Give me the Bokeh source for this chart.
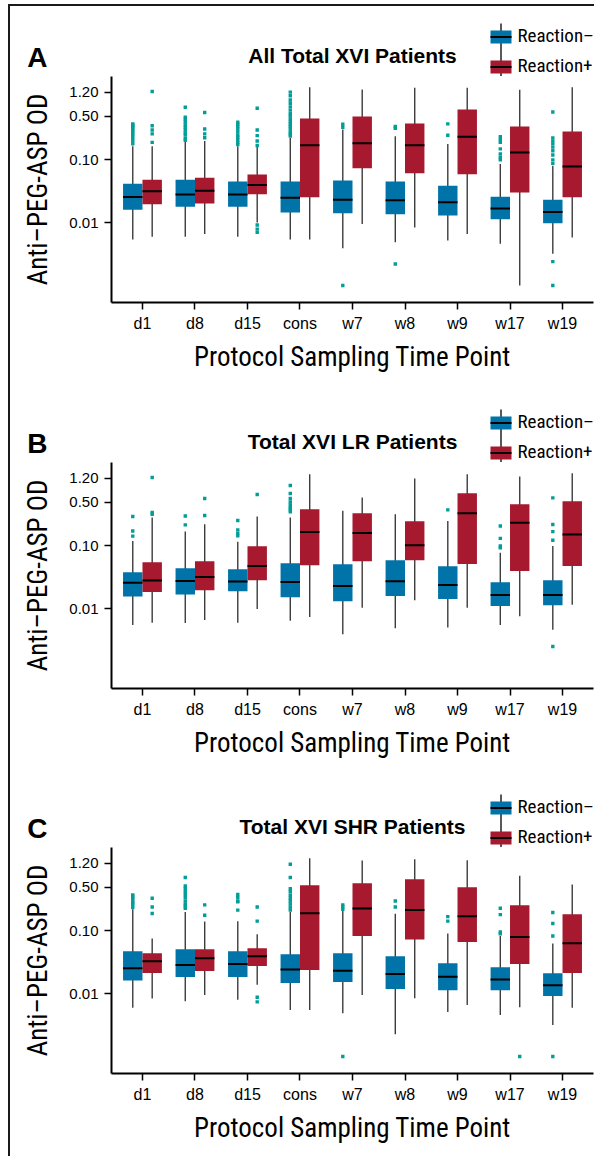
from bokeh.plotting import figure
from bokeh.models import (FactorRange, Range1d, ColumnDataSource, FixedTicker,
                          PrintfTickFormatter, Label, CustomJSTickFormatter)
from bokeh.core.properties import value
from bokeh.transform import dodge
from bokeh.layouts import column
from bokeh.embed import file_html
from bokeh.resources import INLINE

# ---------------- data ----------------
cats = ["d1", "d8", "d15", "cons", "w7", "w8", "w9", "w17", "w19"]
groups = ["Reaction\u2013", "Reaction+"]
y_ticks = [0.01, 0.1, 0.5, 1.2]

# Panel A: All Total XVI Patients
A_neg_lo  = [0.0054, 0.0060, 0.0060, 0.0054, 0.0039, 0.0049, 0.0052, 0.0046, 0.0032]
A_neg_q1  = [0.0161, 0.0180, 0.0180, 0.0146, 0.0141, 0.0136, 0.0130, 0.0113, 0.0098]
A_neg_med = [0.0257, 0.0280, 0.0280, 0.0250, 0.0233, 0.0227, 0.0211, 0.0169, 0.0148]
A_neg_q3  = [0.0419, 0.0485, 0.0451, 0.0451, 0.0468, 0.0451, 0.0389, 0.0260, 0.0233]
A_neg_hi  = [0.165, 0.198, 0.165, 0.224, 0.304, 0.238, 0.180, 0.0863, 0.081]
A_pos_lo  = [0.0060, 0.0066, 0.0101, 0.0054, 0.0095, 0.0084, 0.0066, 0.0010, 0.0058]
A_pos_q1  = [0.0196, 0.0203, 0.0283, 0.0254, 0.0735, 0.0612, 0.0589, 0.0304, 0.0254]
A_pos_med = [0.0316, 0.0324, 0.0400, 0.171, 0.184, 0.171, 0.233, 0.131, 0.0782]
A_pos_q3  = [0.0485, 0.0522, 0.0583, 0.456, 0.490, 0.379, 0.634, 0.340, 0.283]
A_pos_hi  = [0.165, 0.200, 0.165, 1.44, 1.32, 1.41, 1.41, 1.31, 1.44]
A_out_neg = {
    "d1": [0.18, 0.20, 0.22, 0.24, 0.26, 0.28, 0.30, 0.32, 0.34, 0.36, 0.375],
    "d8": [0.69, 0.48, 0.44, 0.40, 0.36, 0.33, 0.30, 0.27, 0.25, 0.22, 0.205],
    "d15": [0.398, 0.37, 0.34, 0.31, 0.28, 0.25, 0.23, 0.21, 0.19, 0.175],
    "cons": [1.2, 1.05, 0.9, 0.8, 0.7, 0.62, 0.55, 0.5, 0.45, 0.41, 0.37, 0.34, 0.31, 0.28, 0.26, 0.24],
    "w7": [0.37, 0.33, 0.001],
    "w8": [0.34, 0.32, 0.0022],
    "w9": [0.375, 0.247],
    "w17": [0.235, 0.21, 0.19, 0.15, 0.125, 0.11, 0.10],
    "w19": [0.58, 0.224, 0.20, 0.18, 0.16, 0.14, 0.12, 0.10, 0.088, 0.0024, 0.001],
}
A_out_pos = {
    "d1": [1.23, 0.35, 0.30, 0.26, 0.19],
    "d8": [0.57, 0.31, 0.26, 0.225],
    "d15": [0.666, 0.30, 0.244, 0.20, 0.17, 0.0092, 0.0079, 0.0070],
}

# Panel B: Total XVI LR Patients
B_neg_lo  = [0.0055, 0.0059, 0.0060, 0.0064, 0.0039, 0.0049, 0.0050, 0.0055, 0.0046]
B_neg_q1  = [0.0157, 0.0169, 0.0189, 0.0152, 0.0132, 0.0159, 0.0143, 0.0110, 0.0114]
B_neg_med = [0.0260, 0.0276, 0.0270, 0.0267, 0.0230, 0.0273, 0.0239, 0.0165, 0.0165]
B_neg_q3  = [0.0380, 0.0440, 0.0424, 0.0529, 0.0510, 0.0590, 0.0474, 0.0263, 0.0283]
B_neg_hi  = [0.120, 0.169, 0.117, 0.283, 0.362, 0.320, 0.250, 0.078, 0.100]
B_pos_lo  = [0.0060, 0.0066, 0.0099, 0.0074, 0.0104, 0.0136, 0.0104, 0.0076, 0.0116]
B_pos_q1  = [0.0185, 0.0196, 0.0283, 0.0491, 0.0570, 0.0590, 0.0516, 0.0400, 0.0480]
B_pos_med = [0.0280, 0.0320, 0.0480, 0.167, 0.161, 0.1025, 0.332, 0.233, 0.152]
B_pos_q3  = [0.0548, 0.0570, 0.0989, 0.385, 0.332, 0.248, 0.690, 0.462, 0.516]
B_pos_hi  = [0.283, 0.222, 0.294, 1.39, 0.59, 1.19, 1.39, 1.28, 1.44]
B_out_neg = {
    "d1": [0.294, 0.173, 0.143],
    "d8": [0.30, 0.216],
    "d15": [0.254, 0.18, 0.16, 0.145],
    "cons": [0.918, 0.684, 0.57, 0.50, 0.45, 0.41, 0.38, 0.35],
    "w9": [0.375],
    "w17": [0.208, 0.132, 0.10, 0.093],
    "w19": [0.583, 0.219, 0.169, 0.123, 0.0025],
}
B_out_pos = {
    "d1": [1.23, 0.34, 0.32],
    "d8": [0.569, 0.305],
    "d15": [0.659],
}

# Panel C: Total XVI SHR Patients
C_neg_lo  = [0.0060, 0.00755, 0.0080, 0.0055, 0.0049, 0.00227, 0.0051, 0.00457, 0.00316]
C_neg_q1  = [0.0163, 0.0185, 0.0185, 0.0148, 0.0154, 0.0119, 0.0114, 0.0114, 0.0092]
C_neg_med = [0.0254, 0.0287, 0.0297, 0.0244, 0.0233, 0.0206, 0.0187, 0.0169, 0.0136]
C_neg_q3  = [0.0474, 0.0510, 0.0474, 0.0424, 0.0440, 0.0394, 0.0305, 0.0263, 0.0211]
C_neg_hi  = [0.222, 0.201, 0.143, 0.201, 0.235, 0.187, 0.0906, 0.0832, 0.0628]
C_pos_lo  = [0.0084, 0.0095, 0.0139, 0.0055, 0.0095, 0.0085, 0.0066, 0.0061, 0.0060]
C_pos_q1  = [0.0214, 0.0230, 0.0276, 0.0239, 0.0832, 0.0728, 0.0667, 0.0297, 0.0214]
C_pos_med = [0.0328, 0.0366, 0.0394, 0.191, 0.227, 0.216, 0.171, 0.0802, 0.0636]
C_pos_q3  = [0.0440, 0.0510, 0.0529, 0.535, 0.576, 0.667, 0.498, 0.257, 0.185]
C_pos_hi  = [0.0755, 0.141, 0.0885, 1.43, 1.32, 1.39, 1.34, 0.755, 0.548]
C_out_neg = {
    "d1": [0.375, 0.35, 0.33, 0.30, 0.28, 0.26, 0.235],
    "d8": [0.71, 0.52, 0.47, 0.42, 0.38, 0.34, 0.30, 0.27, 0.25, 0.23],
    "d15": [0.38, 0.34, 0.30, 0.29, 0.214],
    "cons": [1.15, 0.71, 0.47, 0.42, 0.37, 0.33, 0.30, 0.27, 0.24, 0.215],
    "w7": [0.26, 0.24, 0.22, 0.001],
    "w8": [0.30, 0.24],
    "w9": [0.169, 0.143],
    "w17": [0.23, 0.182, 0.096, 0.09],
    "w19": [0.196, 0.131, 0.0832, 0.001],
}
C_out_pos = {
    "d1": [0.332, 0.241, 0.189],
    "d8": [0.26, 0.178],
    "d15": [0.24, 0.143, 0.0088, 0.0074],
    "w17": [0.001],
}

# ---------------- style ----------------
BLUE = "#0073a8"
RED = "#a6192e"
TEAL = "#009e98"
WHISK = "#3c3c3c"
NARROW = "'Liberation Sans Narrow', 'Arial Narrow', 'Roboto Condensed', 'DejaVu Sans Condensed', sans-serif"
REG = "'Liberation Sans', Arial, sans-serif"

YLOG_MIN, YLOG_MAX = -3.271, 0.3285
FRAME_W, FRAME_H = 482, 226
LEFT_B = 101
TOTAL_W = 584
HEAD_H = 70
PAD = 0.02
OFF = 0.185
BW = 0.37


def make_header(letter, title):
    # frame of this header is aligned by the column with the plot frames below,
    # so its x coordinates are measured from the left edge of the figure column.
    h = figure(width=TOTAL_W, height=HEAD_H,
               x_range=Range1d(LEFT_B, LEFT_B + FRAME_W), y_range=Range1d(0, HEAD_H),
               x_axis_location=None, y_axis_location="left",
               min_border_left=LEFT_B, min_border_right=TOTAL_W - LEFT_B - FRAME_W,
               min_border_top=0, min_border_bottom=0,
               output_backend="svg", toolbar_location=None,
               background_fill_color="white", border_fill_color="white")
    h.outline_line_color = None
    h.xgrid.visible = False
    h.ygrid.visible = False
    # panel letter, shown as the single label of the header's left axis
    ax = h.yaxis[0]
    ax.ticker = FixedTicker(ticks=[19.5], minor_ticks=[])
    ax.formatter = CustomJSTickFormatter(code="return %r;" % letter)
    ax.axis_line_color = None
    ax.major_tick_line_color = None
    ax.minor_tick_line_color = None
    ax.major_tick_out = 0
    ax.major_tick_in = 0
    ax.major_label_orientation = "horizontal"
    ax.major_label_standoff = 64
    ax.major_label_text_font = REG
    ax.major_label_text_font_style = "bold"
    ax.major_label_text_font_size = "28px"
    ax.major_label_text_color = "black"

    h.add_layout(Label(x=LEFT_B + FRAME_W / 2, y=21.3, text=title, text_font=REG,
                       text_font_style="bold", text_font_size="21px", text_align="center",
                       text_baseline="middle", text_color="black"))
    # box-plot key
    kx, kw, kh = 490.5, 21, 13
    ky = [39.5, 9.5]
    h.segment(x0=[kx], x1=[kx], y0=[53], y1=[-2], line_color="#222222", line_width=1.5)
    h.rect(x=[kx, kx], y=ky, width=kw, height=kh, fill_color=[BLUE, RED], line_color=None)
    h.segment(x0=[kx - kw / 2] * 2, x1=[kx + kw / 2] * 2, y0=ky, y1=ky,
              line_color="black", line_width=2)
    h.text(x=[kx + 16.5] * 2, y=[ky[0] + 1.5, ky[1] + 1.5], text=groups,
           text_font=value(NARROW), text_font_size="19px", text_baseline="middle",
           text_align="left", text_color="black")
    return h


def make_panel(neg, pos, out_neg, out_pos, bottom_border):
    p = figure(x_range=FactorRange(factors=cats, range_padding=PAD, range_padding_units="percent"),
               y_axis_type="log", y_range=Range1d(10 ** YLOG_MIN, 10 ** YLOG_MAX),
               frame_width=FRAME_W, frame_height=FRAME_H,
               min_border_left=LEFT_B, min_border_right=TOTAL_W - LEFT_B - FRAME_W,
               min_border_top=0, min_border_bottom=bottom_border,
               output_backend="svg", toolbar_location=None,
               background_fill_color="white", border_fill_color="white")
    p.outline_line_color = None
    p.xgrid.visible = False
    p.ygrid.visible = False

    src = ColumnDataSource(dict(cat=cats, nlo=neg[0], nq1=neg[1], nmed=neg[2], nq3=neg[3], nhi=neg[4],
                                plo=pos[0], pq1=pos[1], pmed=pos[2], pq3=pos[3], phi=pos[4]))
    xr = p.x_range
    # whiskers
    p.segment(x0=dodge("cat", -OFF, range=xr), x1=dodge("cat", -OFF, range=xr), y0="nlo", y1="nhi",
              source=src, line_color=WHISK, line_width=1.4)
    p.segment(x0=dodge("cat", OFF, range=xr), x1=dodge("cat", OFF, range=xr), y0="plo", y1="phi",
              source=src, line_color=WHISK, line_width=1.4)
    # boxes
    p.vbar(x=dodge("cat", -OFF, range=xr), width=BW, bottom="nq1", top="nq3", source=src,
           fill_color=BLUE, line_color=None)
    p.vbar(x=dodge("cat", OFF, range=xr), width=BW, bottom="pq1", top="pq3", source=src,
           fill_color=RED, line_color=None)
    # medians
    p.segment(x0=dodge("cat", -BW, range=xr), x1=dodge("cat", 0, range=xr), y0="nmed", y1="nmed",
              source=src, line_color="black", line_width=2)
    p.segment(x0=dodge("cat", 0, range=xr), x1=dodge("cat", BW, range=xr), y0="pmed", y1="pmed",
              source=src, line_color="black", line_width=2)
    # outliers
    for outs, off in ((out_neg, -OFF), (out_pos, OFF)):
        oc, ov = [], []
        for c, vals in outs.items():
            oc += [c] * len(vals)
            ov += vals
        osrc = ColumnDataSource(dict(cat=oc, val=ov))
        p.scatter(x=dodge("cat", off, range=xr), y="val", source=osrc, marker="square",
                  size=3.4, fill_color=TEAL, line_color=None)

    # axes
    p.yaxis.ticker = FixedTicker(ticks=y_ticks, minor_ticks=[])
    p.yaxis.formatter = PrintfTickFormatter(format="%.2f")
    for ax in (p.xaxis[0], p.yaxis[0]):
        ax.axis_line_width = 2
        ax.axis_line_color = "black"
        ax.major_tick_line_width = 1.5
        ax.major_tick_line_color = "black"
        ax.major_tick_out = 7
        ax.major_tick_in = 0
        ax.minor_tick_line_color = None
        ax.major_label_text_color = "black"
        ax.major_label_text_font = REG
        ax.axis_label_text_font = NARROW
        ax.axis_label_text_font_style = "normal"
        ax.axis_label_text_font_size = "27px"
        ax.axis_label_text_color = "black"
    p.xaxis.major_label_text_font_size = "16px"
    p.xaxis.major_label_standoff = 5
    p.xaxis.axis_label = "Protocol Sampling Time Point"
    p.xaxis.axis_label_standoff = 6
    p.yaxis.major_label_text_font_size = "15px"
    p.yaxis.major_label_standoff = 6
    p.yaxis.axis_label = "Anti\u2013PEG-ASP OD"
    p.yaxis.axis_label_standoff = 12
    return p


hA = make_header("A", "All Total XVI Patients")
pA = make_panel([A_neg_lo, A_neg_q1, A_neg_med, A_neg_q3, A_neg_hi],
                [A_pos_lo, A_pos_q1, A_pos_med, A_pos_q3, A_pos_hi],
                A_out_neg, A_out_pos, 90)
hB = make_header("B", "Total XVI LR Patients")
pB = make_panel([B_neg_lo, B_neg_q1, B_neg_med, B_neg_q3, B_neg_hi],
                [B_pos_lo, B_pos_q1, B_pos_med, B_pos_q3, B_pos_hi],
                B_out_neg, B_out_pos, 89)
hC = make_header("C", "Total XVI SHR Patients")
pC = make_panel([C_neg_lo, C_neg_q1, C_neg_med, C_neg_q3, C_neg_hi],
                [C_pos_lo, C_pos_q1, C_pos_med, C_pos_q3, C_pos_hi],
                C_out_neg, C_out_pos, 70)

layout = column(hA, pA, hB, pB, hC, pC, spacing=0,
                styles={"margin-left": "8px", "margin-top": "4px", "padding-bottom": "10px",
                        "border-left": "2px solid #1a1a1a", "border-top": "2px solid #1a1a1a"})

open("out.html", "w").write(file_html(layout, INLINE))
